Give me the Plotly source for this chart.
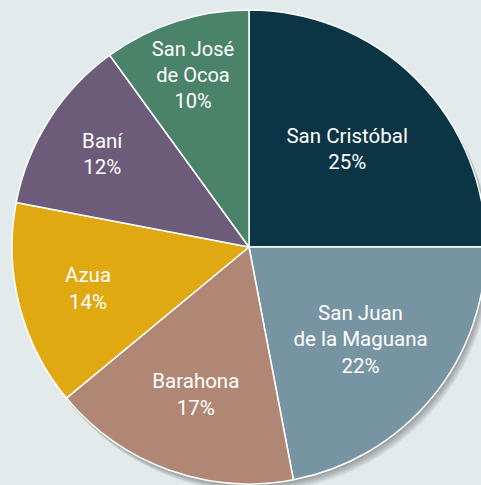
import plotly.graph_objects as go

# shares by province, clockwise from 12 o'clock
provinces = ["San Cristóbal", "San Juan<br>de la Maguana", "Barahona", "Azua", "Baní", "San José<br>de Ocoa"]
shares = [25, 22, 17, 14, 12, 10]
colors = ["#0b3545", "#7794a2", "#b08775", "#e0a811", "#6c5c7a", "#4a826a"]

W, H = 500, 500
# pie box in pixels (left, top, size)
left, top, size = 12, 10, 474

def _dom( dx=0, dy=0 ):
    return { "x" : [( left + dx ) / W, ( left + size + dx ) / W],
             "y" : [( H - top - size - dy ) / H, ( H - top - dy ) / H] }

fig = go.Figure()

# soft drop shadow, mostly below / lower right
for d in range( 1, 10 ):
    fig.add_trace( go.Pie( values=[1], labels=["shadow"], sort=False,
                           marker={ "colors" : ["rgba(30,40,45,0.05)"], "line" : { "width" : 0 } },
                           textinfo="none", hoverinfo="skip", showlegend=False,
                           domain=_dom( d * 0.6, d * 0.9 ) ) )

fig.add_trace( go.Pie( labels=provinces, values=shares,
                       sort=False, direction="clockwise", rotation=0,
                       marker={ "colors" : colors, "line" : { "color" : "#ffffff", "width" : 1.5 } },
                       texttemplate="%{label}<br>%{value}%",
                       textposition="inside", insidetextorientation="horizontal",
                       textfont={ "family" : "Roboto", "size" : 20.5, "color" : "#ffffff" },
                       domain=_dom(),
                       showlegend=False, hoverinfo="label+percent" ) )

fig.update_layout( width=W, height=H,
                   plot_bgcolor="#e2eaec",
                   paper_bgcolor="#e2eaec",
                   margin={"r":0,"t":0,"l":0,"b":0} )

fig.write_html( "out.html", config={ "displayModeBar" : False },
                post_script="document.body.style.margin='0';document.body.style.overflow='hidden';document.documentElement.style.overflow='hidden';" )
